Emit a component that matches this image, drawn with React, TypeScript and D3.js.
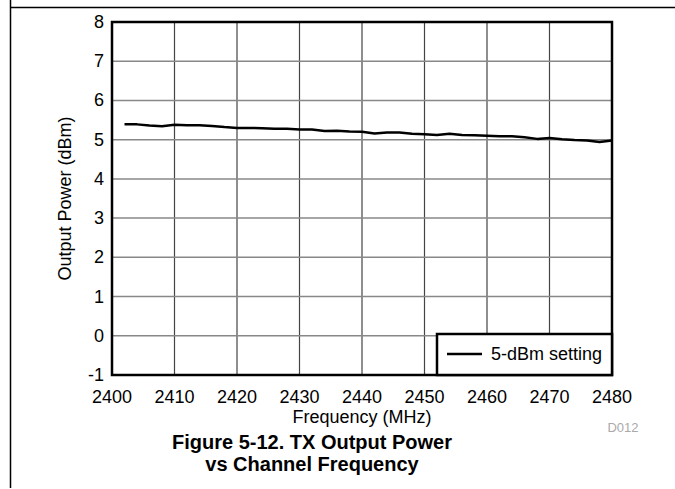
import React, { useEffect, useRef } from 'react';
import * as d3 from 'd3';

// Channel frequency (MHz) and measured output power (dBm)
const frequencies = [
  2402, 2404, 2406, 2408, 2410, 2412, 2414, 2416, 2418, 2420,
  2422, 2424, 2426, 2428, 2430, 2432, 2434, 2436, 2438, 2440,
  2442, 2444, 2446, 2448, 2450, 2452, 2454, 2456, 2458, 2460,
  2462, 2464, 2466, 2468, 2470, 2472, 2474, 2476, 2478, 2480,
];
const powerValues = [
  5.39, 5.39, 5.36, 5.34, 5.38, 5.37, 5.37, 5.35, 5.32, 5.30,
  5.30, 5.29, 5.28, 5.28, 5.26, 5.26, 5.22, 5.23, 5.21, 5.20,
  5.16, 5.18, 5.18, 5.15, 5.14, 5.12, 5.15, 5.12, 5.11, 5.10,
  5.09, 5.09, 5.06, 5.02, 5.04, 5.01, 4.99, 4.98, 4.94, 4.98,
];
const xTicks = [2400, 2410, 2420, 2430, 2440, 2450, 2460, 2470, 2480];
const yTicks = [-1, 0, 1, 2, 3, 4, 5, 6, 7, 8];
const seriesName = '5-dBm setting';

const App = () => {
  const svgRef = useRef<SVGSVGElement>(null);

  useEffect(() => {
    const width = 675;
    const height = 489;
    const font = 'Liberation Sans, Arial, sans-serif';
    const left = 112, right = 612, top = 22, bottom = 375;

    const svg = d3.select(svgRef.current);
    svg.selectAll('*').remove();
    svg.attr('width', width).attr('height', height);

    // Page frame lines
    svg.append('line').attr('x1', 10.5).attr('x2', 10.5).attr('y1', 0).attr('y2', 488)
      .attr('stroke', '#000').attr('stroke-width', 1.5);
    svg.append('line').attr('x1', 10).attr('x2', width).attr('y1', 7.5).attr('y2', 7.5)
      .attr('stroke', '#000').attr('stroke-width', 1.5);

    const x = d3.scaleLinear().domain([2400, 2480]).range([left, right]);
    const y = d3.scaleLinear().domain([-1, 8]).range([bottom, top]);

    // Grid
    svg.append('g').selectAll('line').data(xTicks).enter().append('line')
      .attr('x1', d => x(d)).attr('x2', d => x(d)).attr('y1', top).attr('y2', bottom)
      .attr('stroke', '#444').attr('stroke-width', 1.2);
    svg.append('g').selectAll('line').data(yTicks).enter().append('line')
      .attr('x1', left).attr('x2', right).attr('y1', d => y(d)).attr('y2', d => y(d))
      .attr('stroke', '#888').attr('stroke-width', 1.5);

    // Data line
    const pts = frequencies.map((f, i) => [f, powerValues[i]] as [number, number]);
    const line = d3.line<[number, number]>().x(d => x(d[0])).y(d => y(d[1]));
    svg.append('path').attr('d', line(pts)).attr('fill', 'none')
      .attr('stroke', '#000').attr('stroke-width', 2.5).attr('stroke-linejoin', 'round');

    // Plot frame
    svg.append('rect').attr('x', left).attr('y', top)
      .attr('width', right - left).attr('height', bottom - top)
      .attr('fill', 'none').attr('stroke', '#000').attr('stroke-width', 2.5);

    // Tick labels
    svg.append('g').selectAll('text').data(xTicks).enter().append('text')
      .attr('x', d => x(d)).attr('y', 403).attr('text-anchor', 'middle')
      .attr('font-family', font).attr('font-size', 18).text(d => d);
    svg.append('g').selectAll('text').data(yTicks).enter().append('text')
      .attr('x', 104).attr('y', d => y(d) + 6).attr('text-anchor', 'end')
      .attr('font-family', font).attr('font-size', 18).text(d => d);

    // Axis titles
    svg.append('text').attr('x', (left + right) / 2).attr('y', 423).attr('text-anchor', 'middle')
      .attr('font-family', font).attr('font-size', 18).text('Frequency (MHz)');
    svg.append('text').attr('transform', `translate(71,${(top + bottom) / 2}) rotate(-90)`)
      .attr('text-anchor', 'middle').attr('font-family', font).attr('font-size', 18)
      .text('Output Power (dBm)');

    // Legend
    const lg = svg.append('g');
    lg.append('rect').attr('x', 437).attr('y', 334).attr('width', right - 437).attr('height', bottom - 334)
      .attr('fill', '#fff').attr('stroke', '#000').attr('stroke-width', 2.5);
    lg.append('line').attr('x1', 447).attr('x2', 482).attr('y1', 354).attr('y2', 354)
      .attr('stroke', '#000').attr('stroke-width', 2.5);
    lg.append('text').attr('x', 491).attr('y', 360).attr('font-family', font).attr('font-size', 18)
      .text(seriesName);

    // Figure id and caption
    svg.append('text').attr('x', 623).attr('y', 432).attr('text-anchor', 'middle')
      .attr('font-family', font).attr('font-size', 13).attr('fill', '#aaa').text('D012');
    svg.append('text').attr('x', 312).attr('y', 449).attr('text-anchor', 'middle')
      .attr('font-family', font).attr('font-size', 20).attr('font-weight', 'bold')
      .text('Figure 5-12. TX Output Power');
    svg.append('text').attr('x', 312).attr('y', 471).attr('text-anchor', 'middle')
      .attr('font-family', font).attr('font-size', 20).attr('font-weight', 'bold')
      .text('vs Channel Frequency');
  }, []);

  return <svg ref={svgRef} style={{ position: 'absolute', left: 0, top: 0 }}></svg>;
};

export default App;
